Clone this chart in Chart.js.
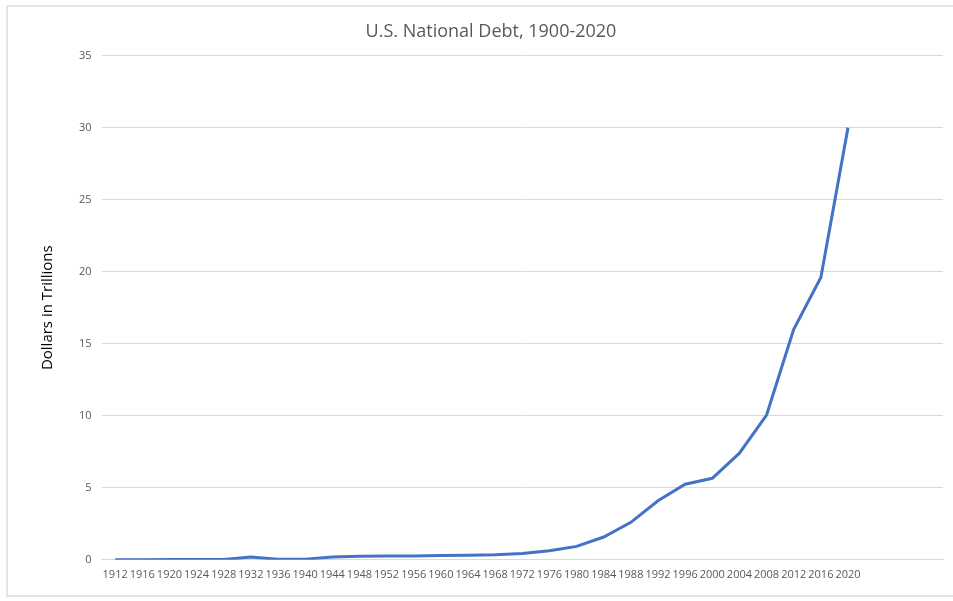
<!DOCTYPE html>
<html>
<head>
<meta charset="utf-8">
<script src="https://cdn.jsdelivr.net/npm/chart.js@4"></script>
<style>
  html, body { margin: 0; padding: 0; background: #fff; }
  #wrap { position: relative; width: 953px; height: 601px; overflow: hidden; }
  #frame { position: absolute; left: 6px; top: 5px; width: 1000px; height: 592px; border: 2px solid #e4e4e4; box-sizing: border-box; }
  canvas { position: absolute; left: 0; top: 0; }
</style>
</head>
<body>
<div id="wrap">
  <div id="frame"></div>
  <canvas id="debtChart" width="953" height="601"></canvas>
</div>
<script>
// years shown on the axis, plus three empty slots after 2020
const years = ['1912', '1916', '1920', '1924', '1928', '1932', '1936', '1940', '1944', '1948',
               '1952', '1956', '1960', '1964', '1968', '1972', '1976', '1980', '1984', '1988',
               '1992', '1996', '2000', '2004', '2008', '2012', '2016', '2020', '', '', ''];

// debt in trillions of dollars
const debt = [0.003, 0.01, 0.026, 0.021, 0.018, 0.2, 0.034, 0.043, 0.2, 0.25,
              0.26, 0.27, 0.29, 0.31, 0.35, 0.44, 0.63, 0.93, 1.58, 2.6,
              4.1, 5.25, 5.66, 7.4, 10.05, 16.0, 19.6, 30.0];

const yTicks = [0, 5, 10, 15, 20, 25, 30, 35];

const ctx = document.getElementById('debtChart').getContext('2d');
new Chart(ctx, {
    type: 'line',
    data: {
        labels: years,
        datasets: [{
            label: 'National Debt',
            data: debt,
            borderColor: '#4472c4',
            borderWidth: 3,
            pointRadius: 0,
            fill: false,
            tension: 0
        }]
    },
    options: {
        responsive: false,
        animation: false,
        layout: {
            padding: { left: 39, right: 10, top: 10, bottom: 12 }
        },
        scales: {
            x: {
                offset: true,
                grid: { display: false, drawTicks: false },
                border: { color: '#d9d9d9', width: 1 },
                ticks: {
                    color: '#595959',
                    font: { family: 'Open Sans', size: 11 },
                    maxRotation: 0,
                    autoSkip: false,
                    padding: 8
                }
            },
            y: {
                min: 0,
                max: 35,
                afterBuildTicks: axis => { axis.ticks = yTicks.map(v => ({ value: v })); },
                grid: { color: '#d9d9d9', drawTicks: false },
                border: { display: false },
                ticks: {
                    color: '#595959',
                    font: { family: 'Open Sans', size: 11 },
                    padding: 10
                },
                title: {
                    display: true,
                    text: 'Dollars in Trillions',
                    color: '#000',
                    font: { family: 'Open Sans', size: 15 },
                    padding: { top: 0, bottom: 12 }
                }
            }
        },
        plugins: {
            legend: { display: false },
            tooltip: { enabled: false },
            title: {
                display: true,
                text: 'U.S. National Debt, 1900-2020',
                color: '#595959',
                font: { family: 'Open Sans', size: 18, weight: 'normal' },
                padding: { top: 11, bottom: 13 }
            }
        }
    }
});
</script>
</body>
</html>
